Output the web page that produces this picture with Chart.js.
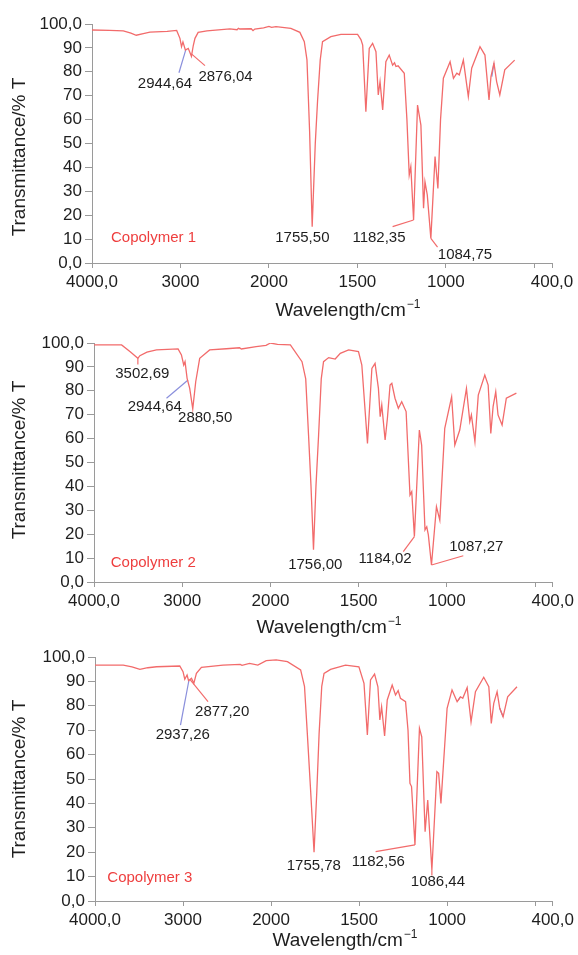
<!DOCTYPE html>
<html><head><meta charset="utf-8">
<script src="https://cdn.jsdelivr.net/npm/chart.js@4/dist/chart.umd.min.js"></script>
<style>
html,body{margin:0;padding:0;background:#fff;}
body{width:578px;height:955px;position:relative;overflow:hidden;}
.box{position:absolute;left:0;width:578px;}
</style></head><body>
<div class="box" style="top:0;height:320px"><canvas id="c1"></canvas></div>
<div class="box" style="top:320px;height:320px"><canvas id="c2"></canvas></div>
<div class="box" style="top:640px;height:315px"><canvas id="c3"></canvas></div>
<script>
// ---------- data ----------
const xTicks = [4000, 3000, 2000, 1500, 1000, 500, 400];
const xTickLabels = ['4000,0', '3000', '2000', '1500', '1000', '', '400,0'];
const yTickLabels = {100: '100,0', 0: '0,0'};
const xTitle = 'Wavelength/cm';
const xTitleSup = '\u22121';
const yTitle = 'Transmittance/% T';

const c1Wave = [4000, 3800, 3646, 3560, 3500, 3420, 3345, 3150, 3043, 3006, 2988, 2972, 2944.64, 2912, 2876.04, 2855, 2836, 2800, 2700, 2441, 2360, 2345, 2330, 2200, 2180, 2160, 2060, 2000, 1985, 1960, 1876, 1825, 1800, 1785, 1770, 1755.5, 1738, 1725, 1710, 1697, 1650, 1593, 1499, 1480, 1470, 1452, 1433, 1414, 1395, 1382, 1372, 1357, 1339, 1320, 1301, 1290, 1282, 1270, 1235, 1220, 1207, 1198, 1182.35, 1160, 1141, 1126, 1118, 1105, 1084.75, 1061, 1045, 1030, 1014, 976, 957, 938, 924, 901, 873, 854, 807, 779, 756, 745, 728, 713, 695, 667, 611];
const c1Trans = [97.5, 97.3, 97.1, 96.2, 95.3, 96.0, 96.6, 96.9, 97.3, 94.0, 90.5, 92.5, 89.1, 89.8, 86.5, 91.0, 94.0, 96.5, 97.1, 98.0, 97.6, 98.2, 97.9, 98.0, 97.2, 97.9, 98.4, 99.0, 98.6, 98.9, 98.2, 96.5, 92.6, 85, 55, 15.2, 50, 68, 85, 92.6, 94.7, 95.7, 95.7, 93.5, 91.2, 63.3, 89.8, 91.9, 88.4, 70.3, 75.9, 64, 84.2, 87, 82.8, 83.8, 82.2, 82.5, 79.4, 60, 36.8, 40.3, 18, 66.1, 57.7, 22.9, 34, 28.5, 10.3, 44.5, 31.2, 60, 77.3, 84.2, 77.3, 79.4, 78.7, 84.9, 69.6, 81.5, 90.5, 87, 68.2, 78, 83.6, 75.9, 70.3, 80.8, 84.9];
const c1BlueMarks = [[740, 78, 728, 83.6]];
const c1BlueLeaders = [[3017, 79.6, 2941, 89.1]];
const c1RedLeaders = [[2876, 87.5, 2723, 82.6], [1301, 15.2, 1182.35, 18], [1084.75, 10.3, 1047, 6.6]];
const c1Labels = ['2944,64', '2876,04', '1755,50', '1182,35', '1084,75'];
const c1LabelX = [3175, 2491, 1811, 1378, 892];
const c1LabelY = [74.9, 77.8, 10.5, 10.5, 3.3];
const c1Name = 'Copolymer 1';
const c1NamePos = [3305, 10.5];

const c2Wave = [4000, 3687, 3593, 3502.69, 3480, 3400, 3292, 3047, 3009, 2983, 2968, 2944.64, 2915, 2880.5, 2847, 2802, 2689, 2500, 2350, 2330, 2162, 2050, 2000, 1960, 1887, 1821, 1800, 1784, 1770, 1756, 1742, 1727, 1712, 1699, 1670, 1633, 1604, 1557, 1501, 1482, 1450, 1425, 1407, 1388, 1378, 1369, 1350, 1337, 1322, 1312, 1294, 1275, 1256, 1231, 1209, 1199, 1184.02, 1156, 1143, 1124, 1114, 1105, 1087.27, 1059, 1040, 1012, 973, 955, 927, 889, 870, 861, 841, 822, 785, 766, 751, 738, 723, 710, 687, 663, 606];
const c2Trans = [99.2, 99.2, 96.4, 93.6, 94.7, 96.2, 97.1, 97.5, 95, 90.8, 92.2, 85.2, 81, 72.4, 83.8, 93.6, 97.1, 97.6, 98, 97.5, 98.5, 99, 100, 99.4, 99.2, 92.2, 85, 61.5, 40, 13.5, 40, 61.5, 85, 92.2, 93.9, 93.3, 95.7, 97.1, 96.4, 90.8, 58, 89.4, 91.5, 81, 69.2, 74.1, 59.4, 68.5, 82.4, 83.1, 76.9, 72.7, 75.4, 71.3, 36.4, 37.8, 19, 63.6, 57.3, 21.8, 23.1, 19.7, 7.1, 31.5, 25.9, 64.3, 77.5, 57.3, 63.6, 81, 67.1, 69.9, 58.7, 78.2, 86.6, 82.4, 62.2, 73.4, 79.6, 69.9, 65.7, 76.9, 79];
const c2BlueMarks = [];
const c2BlueLeaders = [[3178, 76.9, 2934, 84.5]];
const c2RedLeaders = [[3502.69, 93.6, 3502.69, 91], [1247, 12.7, 1184.02, 19], [1087.27, 7.1, 907, 11]];
const c2Labels = ['3502,69', '2944,64', '2880,50', '1756,00', '1184,02', '1087,27'];
const c2LabelX = [3452, 3311, 2740, 1746, 1350, 833];
const c2LabelY = [87, 73.2, 68.6, 7.1, 9.6, 14.6];
const c2Name = 'Copolymer 2';
const c2NamePos = [3328, 8.2];

const c3Wave = [4000, 3679, 3580, 3490, 3400, 3301, 3037, 3000, 2980, 2954, 2937.26, 2904, 2877.2, 2848, 2791, 2546, 2350, 2330, 2244, 2150, 2055, 1971, 1907, 1832, 1810, 1794, 1775, 1755.78, 1740, 1727, 1712, 1699, 1662, 1577, 1501, 1472, 1453, 1435, 1412, 1393, 1382, 1372, 1355, 1340, 1312, 1293, 1278, 1265, 1236, 1222, 1211, 1202, 1182.56, 1157, 1144, 1125, 1110, 1086.44, 1058, 1048, 1035, 1000, 972, 943, 924, 911, 886, 864, 839, 792, 763, 749, 735, 716, 701, 682, 656, 603];
const c3Trans = [96.7, 96.7, 96.0, 94.9, 95.6, 96.0, 96.3, 94.0, 90.9, 92.6, 90.3, 91.3, 89.2, 93.3, 95.8, 96.7, 97.0, 96.6, 97.4, 96.7, 98.5, 98.8, 98.1, 94.7, 88, 68.7, 45, 20, 45, 68.7, 88, 93.3, 94.9, 96.7, 96.0, 89.2, 68, 90.6, 93, 87.8, 74.2, 79.6, 67.6, 82.4, 88.5, 84.4, 86.2, 83.1, 81.7, 70, 48.2, 46.9, 23, 70.8, 67.3, 28.4, 41.4, 12.7, 53, 52.3, 40, 79, 86.5, 81.7, 83.7, 83.1, 87.5, 73.4, 85.8, 91.7, 87.8, 72.8, 81, 85.8, 79, 75.5, 83.7, 87.8];
const c3BlueMarks = [[937, 82.2, 924, 83.7], [701, 79, 682, 75.5]];
const c3BlueLeaders = [[3029, 72.1, 2932, 90.6]];
const c3RedLeaders = [[2924, 90.9, 2716, 81.7], [1406, 20.2, 1182.56, 23], [1086.44, 12.7, 1086.44, 10.5]];
const c3Labels = ['2937,26', '2877,20', '1755,78', '1182,56', '1086,44'];
const c3LabelX = [3003, 2555, 1757, 1391, 1052];
const c3LabelY = [68, 77.7, 14.3, 16, 7.8];
const c3Name = 'Copolymer 3';
const c3NamePos = [3377, 9.6];

// ---------- styles ----------
const FONT = '"Liberation Sans", Arial, Helvetica, sans-serif';
const SPEC = '#F26B6B';
const BLUE = '#8A8FDC';
const AXIS = '#9a9a9a';
const TEXT = '#1e1e1e';
const NAME = '#EE3E3E';

// ---------- IR axis: 4000-2000 at half the scale of 2000-400 ----------
const U_TOTAL = 2600;
function toU(v) { return v >= 2000 ? (4000 - v) / 2 : 1000 + (2000 - v); }
function fromU(u) { return u <= 1000 ? 4000 - 2 * u : 2000 - (u - 1000); }
class IrScale extends Chart.LinearScale {
  buildTicks() { this.start = this.min; this.end = this.max; return xTicks.map(v => ({value: v})); }
  getPixelForValue(v) { return this.left + toU(v) / U_TOTAL * this.width; }
  getValueForPixel(p) { return fromU((p - this.left) / this.width * U_TOTAL); }
}
IrScale.id = 'ir';
IrScale.defaults = {};
Chart.register(IrScale);

const textPlugin = {
  id: 'irText',
  afterDatasetsDraw(chart, args, o) {
    const {ctx} = chart; const xs = chart.scales.x, ys = chart.scales.y;
    ctx.save();
    ctx.textAlign = 'center'; ctx.textBaseline = 'middle';
    ctx.font = '15px ' + FONT; ctx.fillStyle = TEXT;
    o.labels.forEach((t, i) => ctx.fillText(t, xs.getPixelForValue(o.lx[i]), ys.getPixelForValue(o.ly[i])));
    ctx.fillStyle = NAME;
    ctx.fillText(o.name, xs.getPixelForValue(o.namePos[0]), ys.getPixelForValue(o.namePos[1]));
    // x title with superscript
    ctx.fillStyle = TEXT; ctx.textBaseline = 'alphabetic'; ctx.textAlign = 'left';
    ctx.font = '19px ' + FONT;
    const w1 = ctx.measureText(xTitle).width;
    ctx.font = '12px ' + FONT;
    const w2 = ctx.measureText(xTitleSup).width;
    const x0 = o.xtx - (w1 + w2 + 1) / 2;
    ctx.font = '19px ' + FONT;
    ctx.fillText(xTitle, x0, o.xty);
    ctx.font = '12px ' + FONT;
    ctx.fillText(xTitleSup, x0 + w1 + 1, o.xty - 8);
    // y title
    ctx.translate(20, o.yty); ctx.rotate(-Math.PI / 2);
    ctx.textAlign = 'center'; ctx.textBaseline = 'middle';
    ctx.font = '19px ' + FONT;
    ctx.fillText(yTitle, 0, 0);
    ctx.restore();
  }
};

function seg(a) { return [{x: a[0], y: a[1]}, {x: a[2], y: a[3]}]; }

function makeChart(id, d, L) {
  const datasets = [{data: d.wave.map((w, i) => ({x: w, y: d.trans[i]})), borderColor: SPEC, borderWidth: 1.3, pointRadius: 0, tension: 0}];
  d.blueMarks.concat(d.blueLeaders).forEach(s => datasets.push({data: seg(s), borderColor: BLUE, borderWidth: 1.2, pointRadius: 0}));
  d.redLeaders.forEach(s => datasets.push({data: seg(s), borderColor: SPEC, borderWidth: 1.2, pointRadius: 0}));
  new Chart(document.getElementById(id), {
    type: 'line',
    data: {datasets},
    options: {
      animation: false, responsive: true, maintainAspectRatio: false, events: [],
      layout: {padding: {top: L.top, right: 578 - L.right, left: 0, bottom: 0}},
      plugins: {legend: {display: false}, tooltip: {enabled: false},
        irText: {labels: d.labels, lx: d.lx, ly: d.ly, name: d.name, namePos: d.namePos, xtx: L.xtx, xty: L.xty, yty: L.yty}},
      scales: {
        x: {type: 'ir', min: 400, max: 4000,
          afterFit: s => { s.height = L.xh; },
          border: {color: AXIS, width: 1},
          grid: {drawOnChartArea: false, drawTicks: true, tickLength: 5, color: AXIS},
          ticks: {autoSkip: false, maxRotation: 0, padding: 4, color: TEXT, font: {family: FONT, size: 17},
            callback: (v, i) => xTickLabels[xTicks.indexOf(v)]}},
        y: {min: 0, max: 100,
          afterFit: s => { s.width = L.left; },
          border: {color: AXIS, width: 1},
          grid: {drawOnChartArea: false, drawTicks: true, tickLength: 7, color: AXIS},
          ticks: {stepSize: 10, padding: 3, color: TEXT, font: {family: FONT, size: 17},
            callback: v => (yTickLabels[v] !== undefined ? yTickLabels[v] : String(v))}}
      }
    },
    plugins: [textPlugin]
  });
}

makeChart('c1', {wave: c1Wave, trans: c1Trans, blueMarks: c1BlueMarks, blueLeaders: c1BlueLeaders, redLeaders: c1RedLeaders, labels: c1Labels, lx: c1LabelX, ly: c1LabelY, name: c1Name, namePos: c1NamePos},
  {top: 24, right: 552, left: 92, xh: 57, xtx: 348, xty: 316, yty: 157});
makeChart('c2', {wave: c2Wave, trans: c2Trans, blueMarks: c2BlueMarks, blueLeaders: c2BlueLeaders, redLeaders: c2RedLeaders, labels: c2Labels, lx: c2LabelX, ly: c2LabelY, name: c2Name, namePos: c2NamePos},
  {top: 23, right: 554, left: 94, xh: 58, xtx: 329, xty: 313, yty: 140});
makeChart('c3', {wave: c3Wave, trans: c3Trans, blueMarks: c3BlueMarks, blueLeaders: c3BlueLeaders, redLeaders: c3RedLeaders, labels: c3Labels, lx: c3LabelX, ly: c3LabelY, name: c3Name, namePos: c3NamePos},
  {top: 17, right: 556, left: 95, xh: 54, xtx: 345, xty: 306, yty: 139});
</script>
</body></html>
